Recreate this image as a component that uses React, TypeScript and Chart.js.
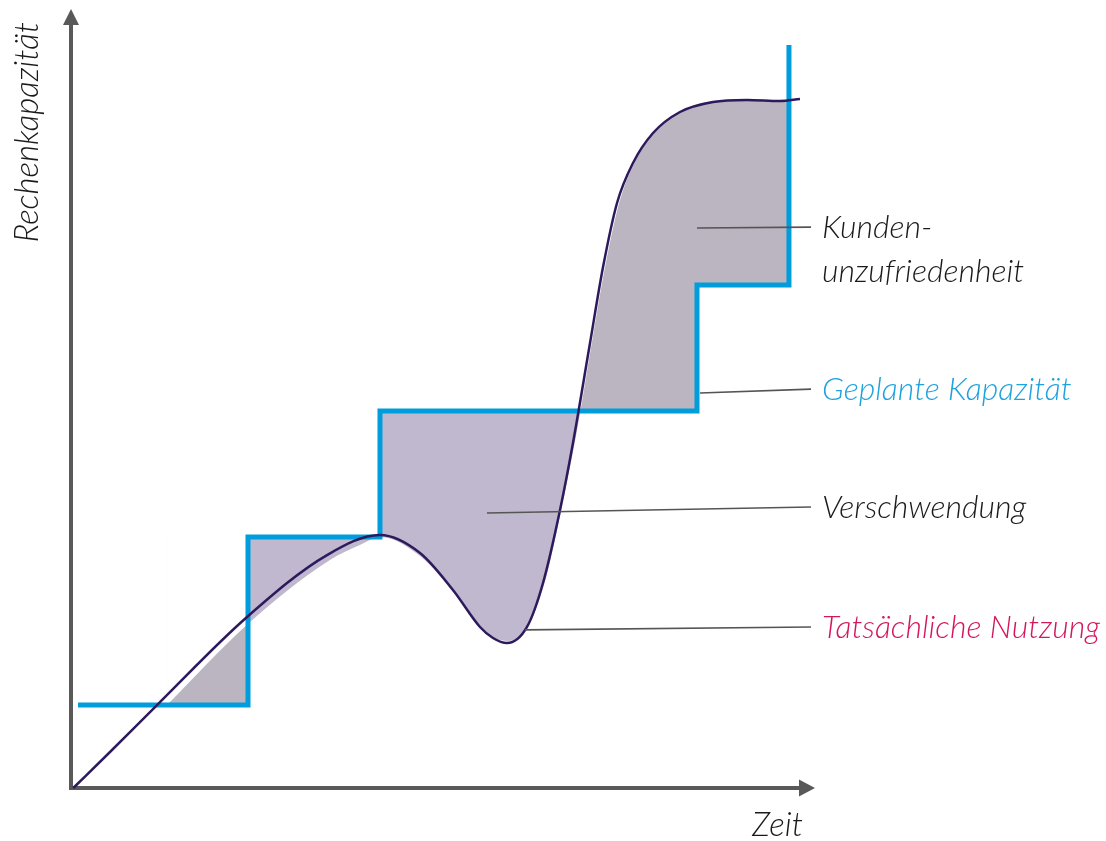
import React, { useEffect, useRef } from 'react';
import { Chart, registerables } from 'chart.js';

Chart.register(...registerables);

// Geplante Kapazität (step levels)
const plannedX = [0.94, 23.79, 41.53, 84.14, 96.5];
const plannedY = [10.65, 32.22, 48.4, 64.57, 95.38];

// Tatsächliche Nutzung (actual usage curve)
const usageX = [0.3, 5.24, 11.56, 23.66, 34.41, 41.53, 46.91, 51.34, 54.97, 56.72, 58.6, 61.29, 63.44, 65.73, 67.47, 69.76, 71.51, 73.39, 75.54, 78.23, 81.85, 86.29, 90.86, 95.3, 97.98];
const usageY = [0, 4.62, 10.65, 21.95, 29.9, 32.48, 30.17, 25.42, 20.67, 19.26, 18.61, 20.67, 26.32, 35.69, 44.29, 57.12, 66.88, 75.1, 80.23, 84.08, 86.78, 88.06, 88.32, 88.19, 88.45];

// Edge of the shaded gap area (slightly offset from the curve, hand-drawn look)
const gapX = [12.9, 24.06, 34.81, 38.84, 41.53, 46.91, 51.61, 55.24, 58.74, 61.69, 63.84, 65.99, 67.88, 70.16, 71.91, 73.79, 75.94, 78.63, 82.26, 86.56, 91.26, 96.5];
const gapY = [10.65, 21.31, 29.27, 31.19, 32.22, 29.78, 24.9, 20.28, 18.87, 21.31, 26.96, 36.2, 45.19, 58.02, 67.52, 75.48, 80.62, 84.34, 87.03, 88.19, 88.32, 88.19];

// Annotations: label lines, leader start (x, y) and end y
const annoLabels = [['Kunden-', 'unzufriedenheit'], ['Geplante Kapazität'], ['Verschwendung'], ['Tatsächliche Nutzung']];
const annoColors = ['#1a1a1a', '#1ea2dc', '#1a1a1a', '#d4175c'];
const annoStartX = [84.14, 84.54, 55.91, 61.02];
const annoStartY = [71.89, 50.7, 35.3, 20.3];
const annoEndY = [72.0, 51.2, 36.07, 20.67];
const annoEndX = 99.46;

const axisTitleX = 'Zeit';
const axisTitleY = 'Rechenkapazität';

const FONT = 'italic 300 32px Lato, "Open Sans", sans-serif';
const TITLE_FONT = 'italic 300 33px Lato, "Open Sans", sans-serif';

const drawPlugin = {
  id: 'sketch',
  beforeDatasetsDraw(chart: any) {
    const { ctx, scales } = chart;
    const x = scales.x, y = scales.y;
    const x0 = x.getPixelForValue(0), y0 = y.getPixelForValue(0);
    const x1 = x.getPixelForValue(100), y1 = y.getPixelForValue(100);
    ctx.save();
    ctx.strokeStyle = '#595959';
    ctx.fillStyle = '#595959';
    ctx.lineWidth = 4;
    ctx.beginPath();
    ctx.moveTo(x0, y0 + 2);
    ctx.lineTo(x0, y1 + 12);
    ctx.moveTo(x0 - 2, y0);
    ctx.lineTo(x1 - 12, y0);
    ctx.stroke();
    // arrow heads
    ctx.beginPath();
    ctx.moveTo(x0, y1);
    ctx.lineTo(x0 - 8, y1 + 16);
    ctx.lineTo(x0 + 8, y1 + 16);
    ctx.closePath();
    ctx.fill();
    ctx.beginPath();
    ctx.moveTo(x1, y0);
    ctx.lineTo(x1 - 16, y0 - 8.5);
    ctx.lineTo(x1 - 16, y0 + 8.5);
    ctx.closePath();
    ctx.fill();
    ctx.restore();
  },
  afterDatasetsDraw(chart: any) {
    const { ctx, scales } = chart;
    const x = scales.x, y = scales.y;
    ctx.save();
    // leader lines
    ctx.strokeStyle = '#555555';
    ctx.lineWidth = 1.6;
    annoLabels.forEach((_, i) => {
      ctx.beginPath();
      ctx.moveTo(x.getPixelForValue(annoStartX[i]), y.getPixelForValue(annoStartY[i]));
      ctx.lineTo(x.getPixelForValue(annoEndX), y.getPixelForValue(annoEndY[i]));
      ctx.stroke();
    });
    ctx.font = FONT;
    ctx.textBaseline = 'middle';
    ctx.textAlign = 'left';
    annoLabels.forEach((lines, i) => {
      ctx.fillStyle = annoColors[i];
      const tx = x.getPixelForValue(annoEndX) + 11;
      const ty = y.getPixelForValue(annoEndY[i]) + 1;
      lines.forEach((ln, j) => ctx.fillText(ln, tx, ty + j * 44));
    });
    // axis titles
    ctx.font = TITLE_FONT;
    ctx.fillStyle = '#1a1a1a';
    ctx.textAlign = 'right';
    ctx.textBaseline = 'alphabetic';
    ctx.fillText(axisTitleX, x.getPixelForValue(100) - 12, y.getPixelForValue(0) + 48);
    ctx.save();
    ctx.translate(x.getPixelForValue(0) - 33, y.getPixelForValue(100) + 13);
    ctx.rotate(-Math.PI / 2);
    ctx.textAlign = 'right';
    ctx.fillText(axisTitleY, 0, 0);
    ctx.restore();
    ctx.restore();
  },
};

export default function App() {
  const ref = useRef<HTMLCanvasElement | null>(null);
  useEffect(() => {
    if (!ref.current) return;
    const chart = new Chart(ref.current, {
      type: 'line',
      data: {
        datasets: [
          {
            label: 'Tatsächliche Nutzung',
            data: usageX.map((v, i) => ({ x: v, y: usageY[i] })),
            borderColor: '#2d1a5c',
            borderWidth: 2.5,
            pointRadius: 0,
            cubicInterpolationMode: 'monotone',
            fill: false,
            clip: false,
          },
          {
            label: 'Geplante Kapazität',
            data: plannedX.map((v, i) => ({ x: v, y: plannedY[i] })),
            borderColor: '#009ddc',
            borderWidth: 5,
            pointRadius: 0,
            stepped: 'before',
            fill: false,
            clip: false,
            borderCapStyle: 'butt',
            borderJoinStyle: 'miter',
          },
          {
            label: 'gap',
            data: gapX.map((v, i) => ({ x: v, y: gapY[i] })),
            borderWidth: 0,
            borderColor: 'rgba(0,0,0,0)',
            pointRadius: 0,
            cubicInterpolationMode: 'monotone',
            fill: { target: 1, above: '#bab5c1', below: '#c0b8cf' },
            clip: false,
          },
        ],
      } as any,
      options: {
        animation: false,
        responsive: true,
        maintainAspectRatio: false,
        layout: { padding: { left: 71, right: 291, top: 9, bottom: 53 } },
        scales: {
          x: { type: 'linear', min: 0, max: 100, display: false },
          y: { type: 'linear', min: 0, max: 100, display: false },
        },
        plugins: { legend: { display: false }, tooltip: { enabled: false } },
        events: [],
      } as any,
      plugins: [drawPlugin],
    });
    return () => chart.destroy();
  }, []);
  return (
    <div style={{ position: 'fixed', left: 0, top: 0, width: 1106, height: 841, background: '#fff' }}>
      <canvas ref={ref} />
    </div>
  );
}
